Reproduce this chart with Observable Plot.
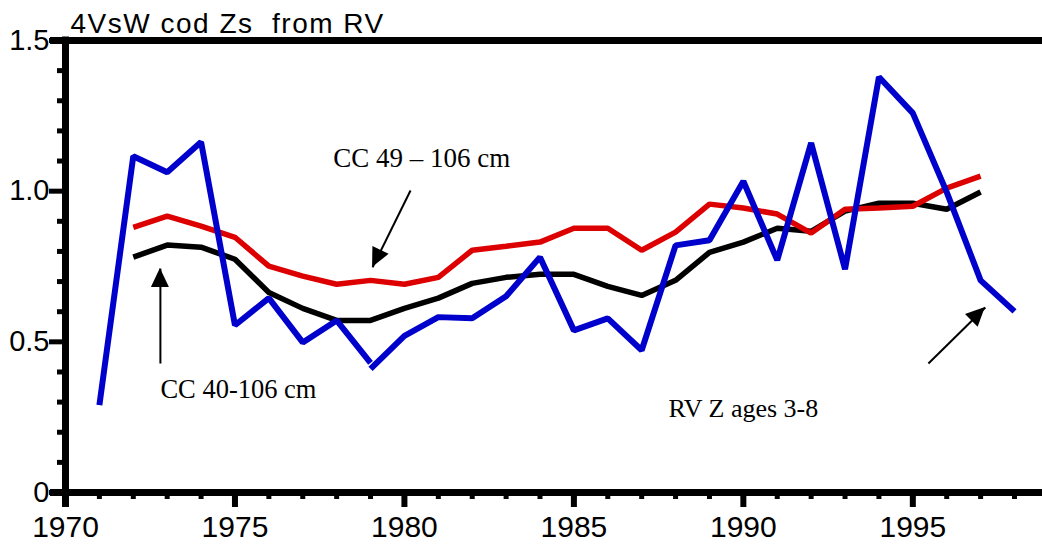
<!DOCTYPE html>
<html><head><meta charset="utf-8">
<script src="https://cdn.jsdelivr.net/npm/d3@7"></script>
<script src="https://cdn.jsdelivr.net/npm/@observablehq/plot@0.6"></script>
<style>html,body{margin:0;padding:0;background:#fff} svg{display:block}</style>
</head><body><div id="chart"></div>
<script>
const title = "4VsW cod Zs\u00a0 from RV";

// RV Z ages 3-8 (blue) - drawn in two pieces (small break at 1979 in the original)
const rvYearsA = [1971,1972,1973,1974,1975,1976,1977,1978,1979];
const rvZA     = [0.29,1.116,1.063,1.163,0.555,0.645,0.498,0.571,0.43];
const rvYearsB = [1979,1980,1981,1982,1983,1984,1985,1986,1987,1988,1989,1990,1991,1992,1993,1994,1995,1996,1997,1998];
const rvZB     = [0.41,0.52,0.582,0.578,0.651,0.781,0.538,0.578,0.472,0.82,0.837,1.033,0.771,1.16,0.741,1.379,1.259,0.997,0.704,0.601];

// Catch curve Zs
const ccYears = [1972,1973,1974,1975,1976,1977,1978,1979,1980,1981,1982,1983,1984,1985,1986,1987,1988,1989,1990,1991,1992,1993,1994,1995,1996,1997];
const cc49 = [0.880,0.917,0.884,0.847,0.751,0.718,0.691,0.704,0.691,0.714,0.804,0.817,0.831,0.877,0.877,0.804,0.864,0.957,0.944,0.924,0.861,0.940,0.944,0.950,1.010,1.050];
const cc40 = [0.781,0.821,0.814,0.774,0.664,0.611,0.571,0.571,0.611,0.645,0.694,0.714,0.724,0.724,0.684,0.654,0.704,0.797,0.831,0.877,0.867,0.934,0.960,0.960,0.940,0.997];

// ticks
const xMajor = [1970,1975,1980,1985,1990,1995];
const xMinor = [1970,1971,1972,1973,1974,1975,1976,1977,1978,1979,1980,1981,1982,1983,1984,1985,1986,1987,1988,1989,1990,1991,1992,1993,1994,1995,1996,1997,1998];
const yMajor = [0,0.5,1.0,1.5];
const yMinor = [0.1,0.2,0.3,0.4,0.6,0.7,0.8,0.9,1.1,1.2,1.3,1.4];

// annotations (data units)
const labelText = ["CC 49 \u2013 106 cm","CC 40-106 cm","RV Z ages 3-8"];
const labelX = [1977.9,1972.8,1987.79];
const labelY = [1.079,0.312,0.249];
const labelSize = [27,26.5,26];
const arrowX1 = [1980.18,1972.8,1995.46];
const arrowY1 = [1.002,0.428,0.428];
const arrowX2 = [1979.06,1972.8,1997.14];
const arrowY2 = [0.747,0.743,0.614];

const rvA = rvYearsA.map((x,i)=>({x, y: rvZA[i]}));
const rvB = rvYearsB.map((x,i)=>({x, y: rvZB[i]}));
const c49 = ccYears.map((x,i)=>({x, y: cc49[i]}));
const c40 = ccYears.map((x,i)=>({x, y: cc40[i]}));
const labels = labelText.map((t,i)=>({t, x: labelX[i], y: labelY[i], s: labelSize[i]}));
const arrows = arrowX1.map((x1,i)=>({x1, y1: arrowY1[i], x2: arrowX2[i], y2: arrowY2[i]}));

const headLen = 19, headHalf = 9;

const chart = Plot.plot({
  width: 1042, height: 545,
  marginLeft: 65, marginRight: 28, marginTop: 40, marginBottom: 53,
  x: {domain: [1970, 1998]},
  y: {domain: [0, 1.5]},
  style: {fontFamily: "'Liberation Sans', Arial, sans-serif", background: "white", color: "black", overflow: "visible"},
  marks: [
    // minor ticks
    Plot.axisX(xMinor, {tickSize: 7, strokeWidth: 5, tickFormat: () => ""}),
    Plot.axisY(yMinor, {tickSize: 8, strokeWidth: 5, tickFormat: () => ""}),
    // major ticks + labels
    Plot.axisX(xMajor, {tickSize: 15, strokeWidth: 6, tickPadding: 8, fontSize: 30, tickFormat: d => String(d)}),
    Plot.axisY(yMajor, {tickSize: 16, strokeWidth: 5, tickPadding: 0, fontSize: 29, tickFormat: d => d === 0 ? "0" : d.toFixed(1)}),
    // frame lines
    Plot.ruleY([1.5], {strokeWidth: 7, insetLeft: -15, insetRight: -28}),
    Plot.ruleY([0], {strokeWidth: 7, insetLeft: -15, insetRight: -28}),
    Plot.ruleX([1970], {strokeWidth: 7, insetTop: -3.5, insetBottom: -15}),
    // series
    Plot.line(c40, {x: "x", y: "y", stroke: "black", strokeWidth: 5.5, strokeLinejoin: "miter", strokeLinecap: "butt"}),
    Plot.line(c49, {x: "x", y: "y", stroke: "#dd0000", strokeWidth: 5.5, strokeLinejoin: "miter", strokeLinecap: "butt"}),
    Plot.line(rvA, {x: "x", y: "y", stroke: "#0000cc", strokeWidth: 6, strokeLinejoin: "miter", strokeLinecap: "butt"}),
    Plot.line(rvB, {x: "x", y: "y", stroke: "#0000cc", strokeWidth: 6, strokeLinejoin: "miter", strokeLinecap: "butt"}),
    // annotation shafts
    Plot.link(arrows, {x1: "x1", y1: "y1", x2: "x2", y2: "y2", stroke: "black", strokeWidth: 2}),
    // annotation labels
    Plot.text(labels, {x: "x", y: "y", text: "t", fontSize: "s", textAnchor: "start", lineAnchor: "bottom", fontFamily: "'Liberation Serif', 'Times New Roman', serif", fill: "black"}),
    // title
    Plot.text([title], {frameAnchor: "top-left", dx: 5, dy: -8, lineAnchor: "bottom", textAnchor: "start", fontSize: 28, fill: "black", className: "ttl"})
  ]
});

// filled arrow heads, positioned through the plot's scales
const sx = chart.scale("x"), sy = chart.scale("y");
const g = d3.select(chart).append("g").attr("fill", "black");
for (const a of arrows) {
  const px1 = sx.apply(a.x1), py1 = sy.apply(a.y1), px2 = sx.apply(a.x2), py2 = sy.apply(a.y2);
  const dx = px2 - px1, dy = py2 - py1, L = Math.hypot(dx, dy), ux = dx / L, uy = dy / L;
  const bx = px2 - ux * headLen, by = py2 - uy * headLen;
  g.append("path").attr("d", `M${px2},${py2}L${bx - uy * headHalf},${by + ux * headHalf}L${bx + uy * headHalf},${by - ux * headHalf}Z`);
}
d3.select(chart).selectAll(".ttl text").attr("letter-spacing", "1.5px");

document.getElementById("chart").appendChild(chart);
</script>
</body></html>
